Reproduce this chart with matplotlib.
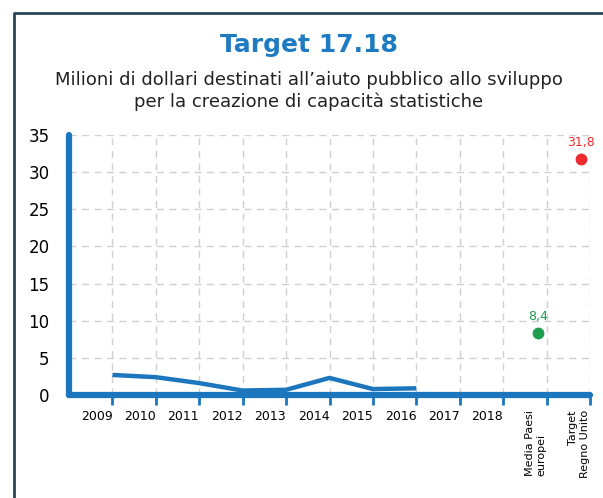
import matplotlib.pyplot as plt
from matplotlib.lines import Line2D

# dati
anni = ['2009', '2010', '2011', '2012', '2013', '2014', '2015', '2016', '2017', '2018']
valori = [2.7, 2.4, 1.6, 0.6, 0.7, 2.3, 0.8, 0.9]
confronti = ['Media Paesi\neuropei', 'Target\nRegno Unito']
valori_confronto = [8.4, 31.8]
etichette_confronto = ['8,4', '31,8']
colori_confronto = ['#1e9e4c', '#ee2a2e']

blu = '#1c76bd'

fig = plt.figure(figsize=(6.03, 4.98), dpi=100)
ax = fig.add_axes([69 / 603, 103 / 498, 521 / 603, 260 / 498])

# serie storica
ax.plot(range(len(valori)), valori, color=blu, lw=3.2, solid_capstyle='butt')

# punti di confronto
for i, (v, lab, c) in enumerate(zip(valori_confronto, etichette_confronto, colori_confronto)):
    x = len(anni) + i - 0.2
    ax.plot(x, v, 'o', color=c, ms=7.5, zorder=5)
    ax.annotate(lab, (x, v), xytext=(0, 7), textcoords='offset points',
                ha='center', va='bottom', color=c, fontsize=9)

ax.set_xlim(-1, len(anni) + len(confronti) - 1)
ax.set_ylim(0, 35)
ax.set_yticks(range(0, 36, 5))
ax.tick_params(axis='y', length=0, labelsize=12, pad=14)

ticks = list(range(len(anni) + len(confronti)))
ax.set_xticks(ticks)
ax.set_xticklabels(anni + confronti, ha='right')
ax.tick_params(axis='x', length=7, width=2, color=blu, labelsize=9, pad=4)
labs = ax.get_xticklabels()
for l in labs[len(anni):]:
    l.set_rotation(90)
    l.set_fontsize(8)
    l.set_va('top')
    l.set_ha('right')
labs[len(anni)].set_multialignment('left')
labs[len(anni) + 1].set_multialignment('right')

ax.grid(True, color='#cfcfcf', linestyle=(0, (5, 4)), lw=1)
ax.set_axisbelow(True)
for s in ['top', 'right']:
    ax.spines[s].set_visible(False)
for s in ['left', 'bottom']:
    ax.spines[s].set_color(blu)
    ax.spines[s].set_linewidth(4.5)
    ax.spines[s].set_capstyle('round')

# titolo
fig.text(0.512, 0.91, 'Target 17.18', ha='center', va='center',
         fontsize=18, fontweight='bold', color='#1f7bc1')
fig.text(0.512, 0.817, 'Milioni di dollari destinati all\u2019aiuto pubblico allo sviluppo\n'
         'per la creazione di capacit\u00e0 statistiche', ha='center', va='center',
         fontsize=13, color='#222222', linespacing=1.2)

# cornice
fig.add_artist(Line2D([14 / 603, 14 / 603, 1.0], [0.0, 1 - 13 / 498, 1 - 13 / 498],
                      transform=fig.transFigure, color='#2a4657', lw=2))

fig.savefig('out.png', dpi=100)
